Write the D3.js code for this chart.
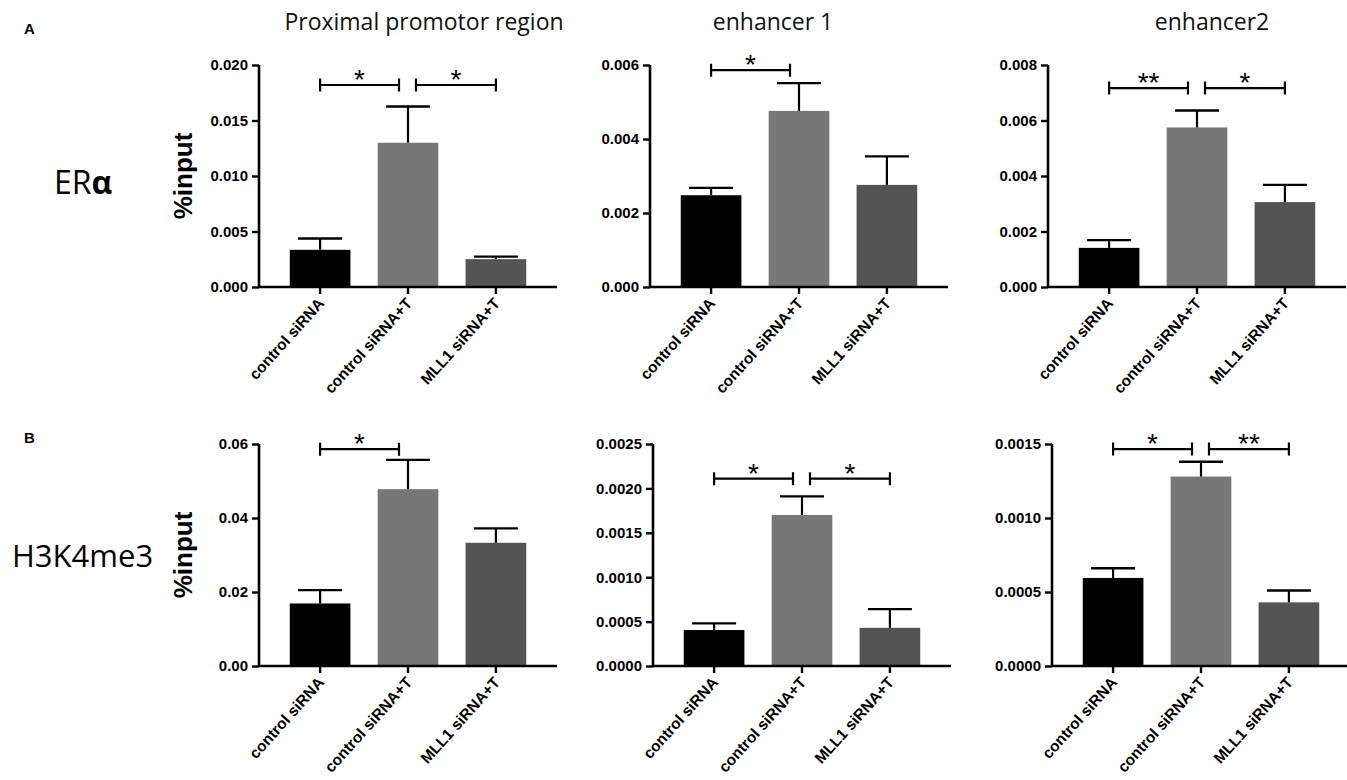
<!DOCTYPE html>
<html><head><meta charset="utf-8">
<script src="https://cdn.jsdelivr.net/npm/d3@7"></script>
<style>body{margin:0;background:#fff}</style>
</head><body>
<svg id="chart" width="1347" height="780"></svg>
<script>
// ---------- data ----------
const categories = ["control siRNA", "control siRNA+T", "MLL1 siRNA+T"];
const regions = ["Proximal promotor region", "enhancer 1", "enhancer2"];
const targets = ["ERα", "H3K4me3"];
const panelLetters = ["A", "B"];

const eraMeans = [[0.00335, 0.0130, 0.00251], [0.00248, 0.00476, 0.00276], [0.00141, 0.00575, 0.00306]];
const eraSEM   = [[0.00102, 0.00326, 0.00023], [0.00020, 0.00075, 0.00077], [0.00028, 0.00061, 0.00062]];
const h3Means  = [[0.0169, 0.0478, 0.0333], [0.000405, 0.00170, 0.00043], [0.000595, 0.00128, 0.00043]];
const h3SEM    = [[0.0036, 0.0079, 0.0039], [0.000075, 0.00021, 0.00021], [0.000065, 0.00010, 0.00008]];

const eraYMax = [0.020, 0.006, 0.008];
const eraYStep = [0.005, 0.002, 0.002];
const eraTickDigits = [3, 3, 3];
const h3YMax = [0.06, 0.0025, 0.0015];
const h3YStep = [0.02, 0.0005, 0.0005];
const h3TickDigits = [2, 4, 4];

// significance brackets: [from category, to category, y value, label]
const eraSig = [
  [[0, 1, 0.0182, "*"], [1, 2, 0.0182, "*"]],
  [[0, 1, 0.00586, "*"]],
  [[0, 1, 0.00717, "**"], [1, 2, 0.00717, "*"]]
];
const h3Sig = [
  [[0, 1, 0.0586, "*"]],
  [[0, 1, 0.00211, "*"], [1, 2, 0.00211, "*"]],
  [[0, 1, 0.001466, "*"], [1, 2, 0.001466, "**"]]
];

// ---------- layout / style ----------
const barColors = ["#000000", "#777777", "#545454"];
const rowTop = [65, 444];
const rowBase = [287, 666];
const axisXs = [[259, 650, 1048], [259, 653, 1052]];
const plotW = 298;
const tickFont = "bold 15px 'Liberation Sans', Arial, sans-serif";

const svg = d3.select("#chart");

const rows = [
  {means: eraMeans, sem: eraSEM, ymax: eraYMax, step: eraYStep, digits: eraTickDigits, sig: eraSig},
  {means: h3Means, sem: h3SEM, ymax: h3YMax, step: h3YStep, digits: h3TickDigits, sig: h3Sig}
];

rows.forEach((row, r) => {
  for (let c = 0; c < 3; c++) {
    const x0 = axisXs[r][c];
    const g = svg.append("g");
    const x = d3.scaleBand().domain(categories).range([x0, x0 + plotW]).paddingInner(0.31).paddingOuter(0.35);
    const y = d3.scaleLinear().domain([0, row.ymax[c]]).range([rowBase[r], rowTop[r]]);
    const ticks = d3.range(0, row.ymax[c] + row.step[c] / 2, row.step[c]);

    // bars
    g.selectAll("rect.bar").data(categories).join("rect")
      .attr("x", d => x(d)).attr("width", x.bandwidth())
      .attr("y", (d, i) => y(row.means[c][i]))
      .attr("height", (d, i) => y(0) - y(row.means[c][i]))
      .attr("fill", (d, i) => barColors[i]);

    // error bars (upper only)
    const capW = 44;
    categories.forEach((d, i) => {
      const cx = x(d) + x.bandwidth() / 2;
      const m = row.means[c][i], e = m + row.sem[c][i];
      g.append("line").attr("x1", cx).attr("x2", cx).attr("y1", y(m)).attr("y2", y(e))
        .attr("stroke", "#000").attr("stroke-width", 2.2);
      g.append("line").attr("x1", cx - capW / 2).attr("x2", cx + capW / 2).attr("y1", y(e)).attr("y2", y(e))
        .attr("stroke", "#000").attr("stroke-width", 2.4);
    });

    // y axis
    const ya = g.append("g").attr("transform", `translate(${x0},0)`)
      .call(d3.axisLeft(y).tickValues(ticks).tickSize(7).tickPadding(4)
        .tickFormat(v => v.toFixed(row.digits[c])));
    ya.select(".domain").attr("stroke-width", 2.6).attr("d", `M0,${rowBase[r]}V${rowTop[r]}`);
    ya.selectAll(".tick line").attr("stroke-width", 2.4);
    ya.selectAll(".tick text").style("font", tickFont).attr("fill", "#000");

    // x axis
    const xa = g.append("g").attr("transform", `translate(0,${rowBase[r]})`)
      .call(d3.axisBottom(x).tickSize(7).tickFormat(""));
    xa.select(".domain").attr("stroke-width", 2.6).attr("d", `M${x0},0H${x0 + plotW}`);
    xa.selectAll(".tick line").attr("stroke-width", 2.4);
    categories.forEach(d => {
      const cx = x(d) + x.bandwidth() / 2;
      g.append("text")
        .attr("transform", `translate(${cx + 5},${rowBase[r] + 17}) rotate(-48)`)
        .attr("text-anchor", "end")
        .style("font", "bold 15.5px 'Liberation Sans', Arial, sans-serif")
        .text(d);
    });

    // significance brackets
    row.sig[c].forEach(([a, b, yv, lab]) => {
      let xa1 = x(categories[a]) + x.bandwidth() / 2;
      let xb1 = x(categories[b]) + x.bandwidth() / 2;
      if (a === 1) xa1 += 8;
      if (b === 1) xb1 -= 9;
      const yy = y(yv);
      g.append("path")
        .attr("d", `M${xa1},${yy - 6.5}V${yy + 6.5}M${xa1},${yy}H${xb1}M${xb1},${yy - 6.5}V${yy + 6.5}`)
        .attr("stroke", "#000").attr("stroke-width", 2.2).attr("fill", "none");
      g.append("text").attr("x", (xa1 + xb1) / 2).attr("y", yy + 4)
        .attr("text-anchor", "middle")
        .style("font", "28px 'Liberation Sans', Arial, sans-serif")
        .text(lab);
    });

    // y label
    if (c === 0) {
      g.append("text")
        .attr("transform", `translate(192,${(rowTop[r] + rowBase[r]) / 2}) rotate(-90)`)
        .attr("text-anchor", "middle")
        .style("font", "bold 26px 'Liberation Sans', Arial, sans-serif")
        .text("%input");
    }
  }
});

// titles
const titleX = [424, 773, 1212];
regions.forEach((t, i) => {
  svg.append("text").attr("x", titleX[i]).attr("y", 30).attr("text-anchor", "middle")
    .style("font", "23px 'Open Sans', sans-serif").attr("fill", "#111").text(t);
});

// row labels
const er = svg.append("text").attr("x", 54).attr("y", 194)
  .style("font", "32px 'Open Sans', sans-serif");
er.append("tspan").text(targets[0].slice(0, 2));
er.append("tspan").style("font-weight", "bold").text(targets[0].slice(2));
svg.append("text").attr("x", 12).attr("y", 567)
  .style("font", "31px 'Open Sans', sans-serif").text(targets[1]);

// panel letters
svg.append("text").attr("x", 24).attr("y", 34).style("font", "bold 15px 'Liberation Sans', Arial, sans-serif").text(panelLetters[0]);
svg.append("text").attr("x", 24).attr("y", 443).style("font", "bold 15px 'Liberation Sans', Arial, sans-serif").text(panelLetters[1]);
</script>
</body></html>
